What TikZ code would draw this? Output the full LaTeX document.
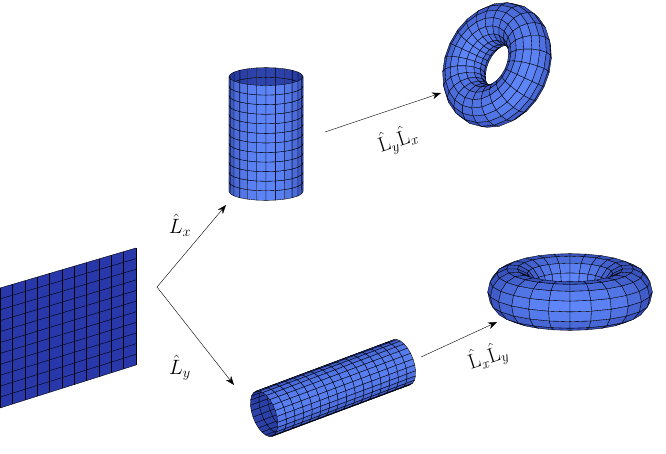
\documentclass[tikz,border=0pt]{standalone}
\usetikzlibrary{arrows.meta,calc}
\tikzset{arr/.style={-{Stealth[length=9pt]},thin},lab/.style={font=\fontsize{22}{26}\selectfont},
  quad/.style={draw=black,line width=0.35pt,line join=round}}
\definecolor{pl}{RGB}{40,55,170}
\definecolor{cA}{RGB}{25,40,140}
\definecolor{cB}{RGB}{95,135,250}
\newcommand\tpc[3]{\pgfmathsetmacro\tmpx{\Sc*(\TR+\Tr*cos(#3))*cos(#2)}%
 \pgfmathsetmacro\tmpy{-\Sc*((\TR+\Tr*cos(#3))*sin(#2)*sin(\Te)+\Tr*sin(#3)*cos(\Te))}%
 \coordinate (#1) at (\tmpx,\tmpy);}
\newcommand\tquad[2]{%
 \pgfmathsetmacro\ub{#1+\du}\pgfmathsetmacro\vb{#2+\dv}%
 \pgfmathsetmacro\um{#1+\du/2}\pgfmathsetmacro\vm{#2+\dv/2}%
 \pgfmathsetmacro\nw{-cos(\vm)*sin(\um)*cos(\Te)+sin(\vm)*sin(\Te)}%
 \ifdim\nw pt>0pt
  \pgfmathtruncatemacro\sh{25+75*\nw}%
  \tpc{q1}{#1}{#2}\tpc{q2}{\ub}{#2}\tpc{q3}{\ub}{\vb}\tpc{q4}{#1}{\vb}%
  \filldraw[quad,fill=cB!\sh!cA] (q1)--(q2)--(q3)--(q4)--cycle;
 \fi}
\newcommand\torus[6]{% scale R r e nu nv
 \def\Sc{#1}\def\TR{#2}\def\Tr{#3}\def\Te{#4}%
 \pgfmathsetmacro\du{360/#5}\pgfmathsetmacro\dv{360/#6}%
 \pgfmathtruncatemacro\nh{#5/2-1}\pgfmathtruncatemacro\nvv{#6-1}%
 \foreach \k in {0,...,\nh}{\foreach \j in {0,...,\nvv}{%
   \pgfmathsetmacro\uu{90+\k*\du}\pgfmathsetmacro\vv{\j*\dv}\tquad{\uu}{\vv}%
   \pgfmathsetmacro\uu{90-(\k+1)*\du}\tquad{\uu}{\vv}}}}
\newcommand\cpc[3]{%
 \pgfmathsetmacro\tmpx{\Sc*(#3*cos(\Cb)-cos(#2)*sin(\Cb))}%
 \pgfmathsetmacro\tmpy{-\Sc*((#3*sin(\Cb)+cos(#2)*cos(\Cb))*sin(\Ce)+sin(#2)*cos(\Ce))}%
 \coordinate (#1) at (\tmpx,\tmpy);}
\newcommand\cquad[3]{%
 \pgfmathsetmacro\ub{#1+\du}\pgfmathsetmacro\tb{#2+\dt}\pgfmathsetmacro\um{#1+\du/2}%
 \pgfmathsetmacro\nw{-cos(\um)*cos(\Cb)*cos(\Ce)+sin(\um)*sin(\Ce)}%
 \pgfmathsetmacro\nws{#3*\nw}%
 \ifdim\nws pt>0pt
  \pgfmathtruncatemacro\sh{#3>0 ? 30+70*\nw : 10-20*\nw}%
  \cpc{q1}{#1}{#2}\cpc{q2}{\ub}{#2}\cpc{q3}{\ub}{\tb}\cpc{q4}{#1}{\tb}%
  \filldraw[quad,fill=cB!\sh!cA] (q1)--(q2)--(q3)--(q4)--cycle;
 \fi}
\newcommand\cyl[6]{% scale b e length nu nt
 \def\Sc{#1}\def\Cb{#2}\def\Ce{#3}%
 \pgfmathsetmacro\du{360/#5}\pgfmathsetmacro\dt{#4/#6}%
 \pgfmathtruncatemacro\nuu{#5-1}\pgfmathtruncatemacro\ntt{#6-1}%
 \foreach \s in {-1,1}{\foreach \i in {0,...,\nuu}{\foreach \j in {0,...,\ntt}{%
   \pgfmathsetmacro\uu{\i*\du}\pgfmathsetmacro\tq{-#4/2+\j*\dt}\cquad{\uu}{\tq}{\s}}}}}
\begin{document}
\begin{tikzpicture}[x=1pt,y=-1pt]
\useasboundingbox (0,0) rectangle (666,453);
\fill[pl] (0,288)--(136,248)--(136,365)--(0,408)--cycle;
\foreach \i in {0,...,11}{
  \draw[black] ($(0,288)!\i/11!(136,248)$) -- ($(0,408)!\i/11!(136,365)$);
  \draw[black] ($(0,288)!\i/11!(0,408)$) -- ($(136,248)!\i/11!(136,365)$);
}
\begin{scope}[shift={(266,134)},rotate=90]
 \cyl{37}{-14}{0}{3.2}{24}{12}
\end{scope}
\begin{scope}[shift={(333,388)},rotate=12]
 \cyl{24}{30}{15}{7}{24}{16}
\end{scope}
\begin{scope}[shift={(497,65)},rotate=65]
 \torus{43}{1}{0.5}{45}{24}{16}
\end{scope}
\begin{scope}[shift={(570,292)}]
 \torus{58}{1}{0.42}{14}{24}{14}
\end{scope}
\coordinate (o) at (157,287);
\coordinate (cv) at (226,205);
\coordinate (ch) at (234,385);
\coordinate (a1) at (325,132);
\coordinate (b1) at (441,93);
\coordinate (a2) at (421,357);
\coordinate (b2) at (497,322);
\draw[arr] (o) -- (cv);
\draw[arr] (o) -- (ch);
\draw[arr] (a1) -- (b1);
\draw[arr] (a2) -- (b2);
\node[lab] (lx) at (180,225) {$\hat{L}_x$};
\node[lab] (ly) at (180,368) {$\hat{L}_y$};
\node[lab,rotate=18] (lyx) at (398,140) {$\hat{\mathrm{L}}_y\hat{\mathrm{L}}_x$};
\node[lab,rotate=18] (lxy) at (488,357) {$\hat{\mathrm{L}}_x\hat{\mathrm{L}}_y$};
\end{tikzpicture}
\end{document}
